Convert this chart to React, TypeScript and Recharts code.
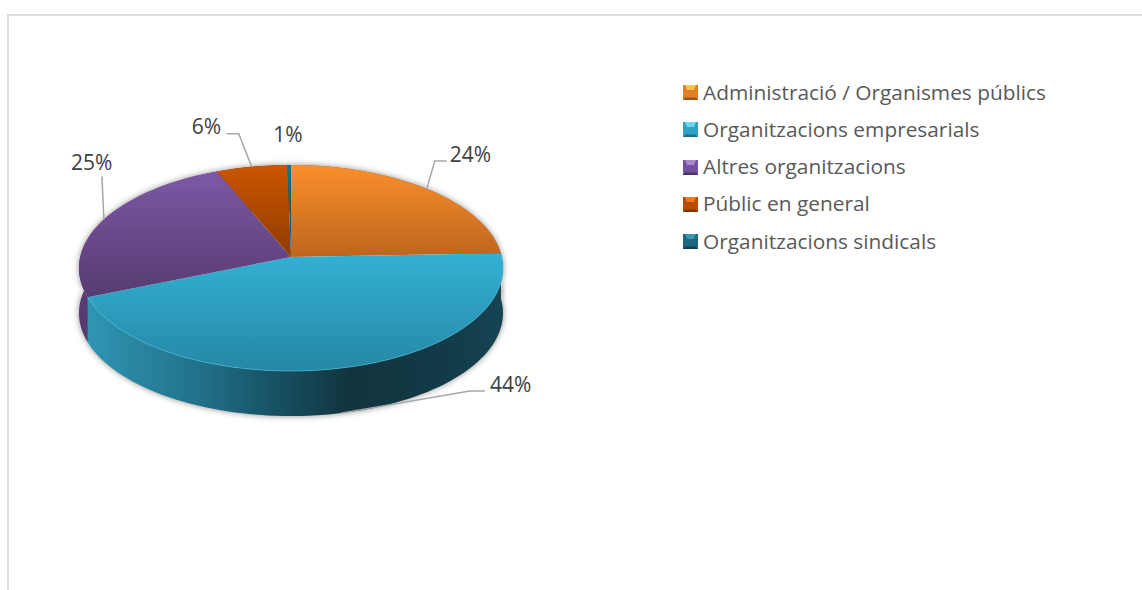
import { PieChart, Pie, Legend } from "recharts";

const CATEGORIES = [
  "Administració / Organismes públics",
  "Organitzacions empresarials",
  "Altres organitzacions",
  "Públic en general",
  "Organitzacions sindicals",
];
// slice sizes as measured on the picture, printed labels as shown on it
const VALUES = [24.4, 44.4, 24.9, 6.0, 0.3];
const PERCENT_LABELS = ["24%", "44%", "25%", "6%", "1%"];
const data = CATEGORIES.map((name, i) => ({ name, value: VALUES[i] }));

const TOP_LIGHT = ["#fb8f2b", "#33b1d3", "#7e58a6", "#cc5500", "#1e6f88"];
const TOP_DARK = ["#bd651d", "#2687a5", "#573b70", "#8e3c00", "#164f61"];
const WALL = ["#a5561a", "url(#wallBlue)", "url(#wallPurple)", "#7a3400", "#123f4e"];
const ICON_MID = ["#e07f26", "#2ea3c4", "#7350a0", "#b84d00", "#1d6880"];
const ICON_LIGHT = ["#ffc14f", "#6fd6ee", "#a888d0", "#f07a20", "#3b93ad"];
const ICON_DARK = ["#9c5316", "#1f6f88", "#4b3362", "#7c3400", "#123f4e"];

// projection of the flat pie onto the tilted one
const TILT = 0.107;
const SQUASH = 0.483;
const DEPTH = 45;
const RADIAN = Math.PI / 180;

const project = (cx: number, cy: number, r: number, deg: number) => {
  const u = Math.cos(deg * RADIAN);
  const v = Math.sin(deg * RADIAN);
  const w = 1 + TILT * v;
  return { x: cx + (r * u) / w, y: cy - (r * SQUASH * v) / w, v };
};

const arcPoints = (p: any) => {
  const pts = [];
  const steps = Math.max(2, Math.ceil(Math.abs(p.endAngle - p.startAngle) / 2));
  for (let i = 0; i <= steps; i++) {
    const deg = p.startAngle + ((p.endAngle - p.startAngle) * i) / steps;
    pts.push(project(p.cx, p.cy, p.outerRadius, deg));
  }
  return pts;
};

const toPath = (pts: { x: number; y: number }[]) =>
  pts.map((q, i) => `${i ? "L" : "M"}${q.x.toFixed(2)} ${q.y.toFixed(2)}`).join("");

const wallPath = (p: any) => {
  const pts = arcPoints(p);
  const lower = [...pts].reverse().map((q) => ({ x: q.x, y: q.y + DEPTH }));
  return toPath([...pts, ...lower]) + "Z";
};

const ShadowShape = (p: any) => (
  <path d={wallPath(p)} fill="#000" fillOpacity={0.45} filter="url(#pieBlur)" />
);

const WallShape = (p: any) => <path d={wallPath(p)} fill={WALL[p.index]} />;

const TopShape = (p: any) => {
  const pts = arcPoints(p);
  return (
    <g>
      <path
        d={`M${p.cx} ${p.cy}` + toPath(pts).replace("M", "L") + "Z"}
        fill={`url(#top${p.index})`}
      />
      {p.index === 1 && (
        <path d={toPath(pts)} fill="none" stroke="#48c3e2" strokeOpacity={0.6} strokeWidth={1} />
      )}
    </g>
  );
};

// leader line bend, leader line end and text start, relative to the rim point
const LABEL_LAYOUT = [
  { bend: [8, -28], end: [20, -28], text: [23, -27] },
  { bend: [129, -22], end: [144, -22], text: [149, -21] },
  { bend: [-2, -43], end: [-2, -43], text: [-33, -50] },
  { bend: [-13, -33], end: [-25, -33], text: [-60, -33] },
  { bend: null, end: null, text: [-16, -23] },
];

const renderLabel = (p: any) => {
  const a = project(p.cx, p.cy, p.outerRadius, p.midAngle);
  const x = a.x;
  const y = a.y + (a.v < 0 ? DEPTH : 0);
  const l = LABEL_LAYOUT[p.index];
  return (
    <g key={p.index}>
      {l.bend && (
        <polyline
          points={`${x},${y} ${x + l.bend[0]},${y + l.bend[1]} ${x + l.end![0]},${y + l.end![1]}`}
          fill="none"
          stroke="#a6a6a6"
          strokeWidth={1.5}
        />
      )}
      <text x={x + l.text[0]} y={y + l.text[1]} fontSize={21} fill="#404040" fontFamily="'Open Sans'">
        {PERCENT_LABELS[p.index]}
      </text>
    </g>
  );
};

const LegendIcon = ({ i }: { i: number }) => (
  <svg width={15} height={15} style={{ display: "block", flex: "none", position: "relative", top: 1 }}>
    <rect width={15} height={15} fill={ICON_MID[i]} />
    <polygon points="2,0 13,0 11,5 4,5" fill={ICON_LIGHT[i]} />
    <polygon points="0,15 15,15 12.5,12.5 2.5,12.5" fill={ICON_DARK[i]} />
  </svg>
);

// the three stacked pies each report their slices, keep one row per category
const renderLegend = () => (
  <div>
    {CATEGORIES.map((name, i) => (
      <div key={name} style={{ display: "flex", alignItems: "center", height: 37.25 }}>
        <LegendIcon i={i} />
        <span style={{ marginLeft: 5, fontSize: 20.85, color: "#595959", fontFamily: "'Open Sans'", whiteSpace: "nowrap" }}>
          {name}
        </span>
      </div>
    ))}
  </div>
);

export default function App() {
  const geometry = {
    data,
    dataKey: "value",
    nameKey: "name",
    cx: 291,
    cy: 257,
    outerRadius: 210.8,
    startAngle: 90,
    endAngle: -270,
    isAnimationActive: false,
  };

  return (
    <div style={{ position: "absolute", left: 0, top: 0, width: 1142, height: 590, overflow: "hidden" }}>
      <div
        style={{
          position: "absolute",
          left: 7,
          top: 14,
          width: 1135,
          height: 576,
          boxSizing: "border-box",
          borderTop: "2px solid #dcdcdc",
          borderLeft: "2px solid #dcdcdc",
        }}
      />
      <PieChart width={1142} height={590} margin={{ top: 0, right: 0, bottom: 0, left: 0 }}>
        <defs>
          <filter id="pieBlur" x="-20%" y="-20%" width="140%" height="140%">
            <feGaussianBlur stdDeviation="3" />
          </filter>
          {TOP_LIGHT.map((c, i) => (
            <linearGradient key={i} id={`top${i}`} x1="0" y1="0" x2="0" y2="1">
              <stop offset="0%" stopColor={c} />
              <stop offset="100%" stopColor={TOP_DARK[i]} />
            </linearGradient>
          ))}
          <linearGradient id="wallBlue" x1="0" y1="0" x2="1" y2="0">
            <stop offset="0%" stopColor="#2f95b3" />
            <stop offset="27%" stopColor="#21718a" />
            <stop offset="44%" stopColor="#175366" />
            <stop offset="63%" stopColor="#12343f" />
            <stop offset="85%" stopColor="#123a47" />
            <stop offset="100%" stopColor="#164453" />
          </linearGradient>
          <linearGradient id="wallPurple" x1="0" y1="0" x2="0" y2="1">
            <stop offset="0%" stopColor="#5e3f79" />
            <stop offset="100%" stopColor="#553a6f" />
          </linearGradient>
        </defs>
        <Pie {...geometry} legendType="none" shape={ShadowShape} />
        <Pie {...geometry} legendType="none" shape={WallShape} />
        <Pie {...geometry} shape={TopShape} label={renderLabel} labelLine={false} />
        <Legend
          layout="vertical"
          align="right"
          verticalAlign="top"
          content={renderLegend}
          wrapperStyle={{ left: 683, right: "auto", top: 73, width: 420 }}
        />
      </PieChart>
    </div>
  );
}
